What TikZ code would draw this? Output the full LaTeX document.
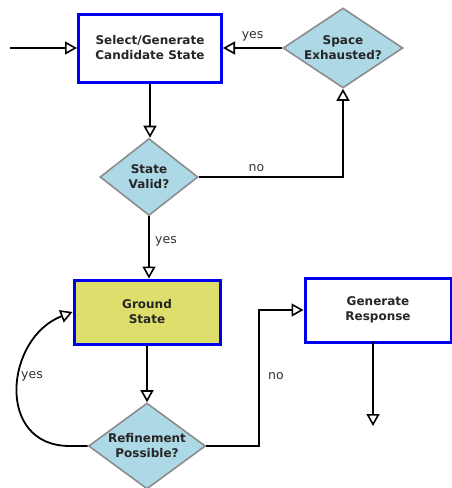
\documentclass[tikz,border=0pt]{standalone}
\usepackage{fontspec}
\setmainfont{DejaVu Sans}
\usetikzlibrary{shapes.geometric,arrows.meta}
\definecolor{boxblue}{RGB}{0,0,240}
\definecolor{diafill}{RGB}{173,216,230}
\definecolor{diaedge}{RGB}{140,140,140}
\definecolor{groundfill}{RGB}{222,222,108}
\definecolor{lbl}{RGB}{50,50,50}
\tikzset{
  procbox/.style={draw=boxblue, line width=3pt, fill=white, rectangle, inner sep=0pt,
    font=\bfseries\fontsize{12}{15}\selectfont, text=black!85, align=center},
  decision/.style={draw=diaedge, line width=1.6pt, fill=diafill, diamond, inner sep=0pt},
  dtext/.style={font=\bfseries\fontsize{12}{15}\selectfont, text=black!85, align=center},
  flow/.style={line width=1.8pt, -{Triangle[open, length=12pt, width=13pt, line width=1.6pt]}},
  edgelbl/.style={font=\fontsize{12.5}{14}\selectfont, text=lbl}
}
\begin{document}
\begin{tikzpicture}[x=1pt,y=-1pt]
\useasboundingbox (0,0) rectangle (451,488);

% process boxes
\node[procbox, minimum width=143pt, minimum height=68pt] (sel) at (150,48)
  {Select/Generate\\Candidate State};
\node[procbox, fill=groundfill, minimum width=146pt, minimum height=64pt] (gnd) at (147,312)
  {Ground\\State};
\node[procbox, minimum width=146pt, minimum height=64pt] (gen) at (378,310)
  {Generate\\Response};

% decisions
\node[decision, minimum width=120pt, minimum height=80pt,
  label={[dtext]center:Space\\Exhausted?}] (spc) at (343,48) {};
\node[decision, minimum width=98pt, minimum height=77pt,
  label={[dtext]center:State\\Valid?}] (val) at (149,177) {};
\node[decision, minimum width=117pt, minimum height=86pt,
  label={[dtext]center:Refinement\\Possible?}] (ref) at (147,446) {};

% free ends
\coordinate (entry) at (10,48);
\coordinate (exit) at (373,426);

% connectors
\draw[flow] (entry) -- (entry -| sel.west);
\draw[flow] (spc.west) -- node[edgelbl, above=3pt] (lyes1) {yes} (sel.east);
\draw[flow] (sel.south) -- (sel.south |- val.north);
\draw[flow] (val.east) -| node[edgelbl, pos=0.2, above=1pt] (lno1) {no} (spc.south);
\draw[flow] (val.south) -- node[edgelbl, right=2pt, pos=0.4] (lyes2) {yes} (val.south |- gnd.north);
\draw[flow] (gnd.south) -- (ref.north);
\draw[flow] (ref.west) -- ++(-18,0) .. controls (-5,446) and (5,338) .. (gnd.west);
\node[edgelbl] (lyes3) at (32,376) {yes};
\draw[flow] (ref.east) -- ++(53,0) |- (gen.west);
\node[edgelbl] (lno2) at (276,376) {no};
\draw[flow] ([xshift=-5pt,yshift=2pt]gen.south) -- (exit);
\end{tikzpicture}
\end{document}
